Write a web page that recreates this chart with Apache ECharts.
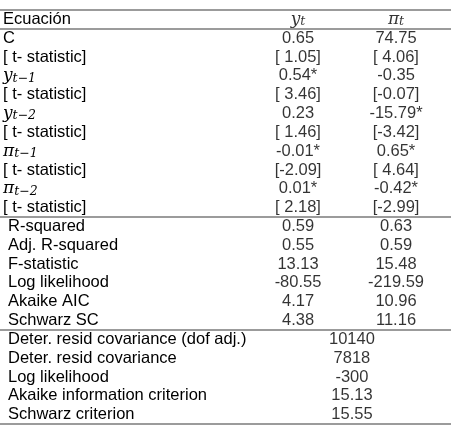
<!DOCTYPE html>
<html>
<head>
<meta charset="utf-8">
<script src="https://cdn.jsdelivr.net/npm/echarts@6/dist/echarts.min.js"></script>
<style>html,body{margin:0;padding:0;background:#fff}#c{width:451px;height:436px}</style>
</head>
<body>
<div id="c"></div>
<script>
// Row labels (first is the header row)
const rowLabels = ['Ecuación','C','[ t- statistic]','y_{t−1}','[ t- statistic]','y_{t−2}','[ t- statistic]',
  'π_{t−1}','[ t- statistic]','π_{t−2}','[ t- statistic]',
  'R-squared','Adj. R-squared','F-statistic','Log likelihood','Akaike AIC','Schwarz SC',
  'Deter. resid covariance (dof adj.)','Deter. resid covariance','Log likelihood','Akaike information criterion','Schwarz criterion'];
const colHeaders = ['y_{t}','π_{t}'];
// Equation y_t
const yCoef = [0.65, 0.54, 0.23, -0.01, 0.01];
const yCoefSig = [false, true, false, true, true];
const yTstat = [1.05, 3.46, 1.46, -2.09, 2.18];
const yStats = ['0.59','0.55','13.13','-80.55','4.17','4.38'];
// Equation pi_t
const piCoef = [74.75, -0.35, -15.79, 0.65, -0.42];
const piCoefSig = [false, false, true, true, true];
const piTstat = [4.06, -0.07, -3.42, 4.64, -2.99];
const piStats = ['0.63','0.59','15.48','-219.59','10.96','11.16'];
// System statistics
const sysStats = ['10140','7818','-300','15.13','15.55'];
// Section boundaries (row indices where rules are drawn)
const ruleRows = [0, 1, 11, 17, 22];

const fmtT = v => '[' + (v < 0 ? '-' : ' ') + Math.abs(v).toFixed(2) + ']';
function columnCells(coef, sig, tstat, stats) {
  const out = [];
  coef.forEach((c, i) => { out.push(c.toFixed(2) + (sig[i] ? '*' : '')); out.push(fmtT(tstat[i])); });
  return out.concat(stats);
}
const colY = columnCells(yCoef, yCoefSig, yTstat, yStats);
const colPi = columnCells(piCoef, piCoefSig, piTstat, piStats);

const TEXT = {fontFamily: 'Liberation Sans, Arial, sans-serif', fontSize: 16.5, color: '#000'};
const rich = {
  m: {fontFamily: 'DejaVu Serif, serif', fontStyle: 'italic', fontSize: 17, color: '#000', lineHeight: 18, verticalAlign: 'middle'},
  s: {fontFamily: 'DejaVu Serif, serif', fontStyle: 'italic', fontSize: 12.5, color: '#000', lineHeight: 12, verticalAlign: 'bottom', padding: [7, 0, 0, 0]},
  ind: {fontFamily: 'Liberation Sans, Arial, sans-serif', fontSize: 16.5, color: '#000', padding: [0, 0, 0, 5]}
};
function mathFmt(s) {
  const m = s.match(/^(.)_\{(.+)\}$/);
  return m ? '{m|' + m[1] + '}{s|' + m[2] + '}' : s;
}

function cellData(list, col, startRow) {
  return list.map((t, i) => ({value: [col, startRow + i], text: t}));
}
const labelCfg = Object.assign({show: true, position: 'inside', formatter: p => mathFmt(p.data.text), rich: rich}, TEXT);
function textSeries(data) {
  return {type: 'scatter', data: data, symbolSize: 1, itemStyle: {color: 'rgba(0,0,0,0)'},
    label: labelCfg, silent: true, animation: false, z: 5};
}

const chart = echarts.init(document.getElementById('c'), null, {renderer: 'canvas'});
chart.setOption({
  animation: false,
  grid: {left: 0, right: 0, top: 10, bottom: 12},
  xAxis: {type: 'value', min: -2.041, max: 2.561, show: false},
  yAxis: [
    {type: 'category', data: rowLabels, inverse: true,
      axisLine: {show: false}, axisTick: {show: false}, splitLine: {show: false},
      axisLabel: Object.assign({inside: true, margin: 3, interval: 0, rich: rich,
        formatter: (v, i) => (i >= 11 ? '{ind|' + v + '}' : mathFmt(v))}, TEXT)},
    {type: 'value', min: 0, max: rowLabels.length, inverse: true, show: false}
  ],
  series: [
    textSeries(cellData(colHeaders.slice(0, 1), 1, 0).concat(cellData(colHeaders.slice(1), 2, 0))),
    textSeries(cellData(colY, 1, 1)),
    textSeries(cellData(colPi, 2, 1)),
    textSeries(cellData(sysStats, 1.55, 17)),
    {type: 'line', yAxisIndex: 1, data: [], silent: true,
      markLine: {symbol: 'none', silent: true, animation: false, label: {show: false},
        lineStyle: {color: '#7a7a7a', width: 1.5, type: 'solid'},
        data: ruleRows.map(r => ({yAxis: r}))}}
  ]
});
</script>
</body>
</html>
